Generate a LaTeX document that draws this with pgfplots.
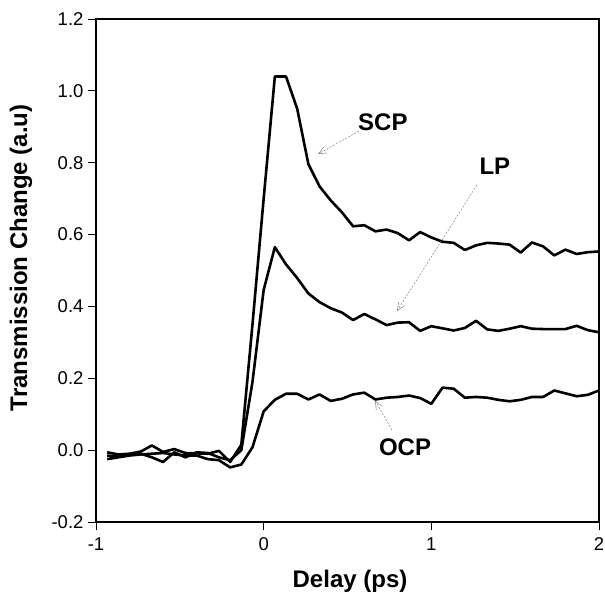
\documentclass[border=0pt]{standalone}
\usepackage{pgfplots}
\pgfplotsset{compat=1.18}
\usepackage{pgfplotstable}
\usepackage{fontspec}
\setmainfont{Liberation Sans}
\usetikzlibrary{arrows.meta}
\pgfplotstableread{
x scp lp ocp
-0.9333 -0.006 -0.015 -0.025
-0.8667 -0.012 -0.018 -0.020
-0.8000 -0.010 -0.012 -0.015
-0.7333 -0.004 -0.010 -0.012
-0.6667 0.013 -0.020 -0.010
-0.6000 -0.005 -0.033 -0.008
-0.5333 0.003 -0.006 -0.012
-0.4667 -0.008 -0.020 -0.015
-0.4000 -0.009 -0.006 -0.015
-0.3333 -0.010 -0.008 -0.025
-0.2667 -0.002 -0.020 -0.028
-0.2000 -0.033 -0.028 -0.048
-0.1333 0.015 0.000 -0.040
-0.0667 0.350 0.190 0.008
0.0000 0.700 0.446 0.108
0.0667 1.040 0.565 0.140
0.1333 1.040 0.517 0.157
0.2000 0.950 0.479 0.157
0.2667 0.796 0.436 0.141
0.3333 0.734 0.412 0.155
0.4000 0.695 0.395 0.137
0.4667 0.662 0.383 0.143
0.5333 0.623 0.362 0.155
0.6000 0.626 0.379 0.160
0.6667 0.609 0.364 0.141
0.7333 0.614 0.348 0.146
0.8000 0.604 0.355 0.148
0.8667 0.584 0.356 0.152
0.9333 0.607 0.332 0.145
1.0000 0.592 0.345 0.129
1.0667 0.580 0.339 0.174
1.1333 0.577 0.333 0.171
1.2000 0.557 0.340 0.146
1.2667 0.570 0.360 0.148
1.3333 0.577 0.336 0.146
1.4000 0.575 0.332 0.140
1.4667 0.572 0.338 0.136
1.5333 0.550 0.345 0.140
1.6000 0.578 0.338 0.148
1.6667 0.567 0.337 0.148
1.7333 0.542 0.337 0.166
1.8000 0.558 0.337 0.158
1.8667 0.546 0.346 0.150
1.9333 0.551 0.334 0.154
2.0000 0.553 0.328 0.166
}\datatable
\begin{document}
\begin{tikzpicture}
\begin{axis}[
  scale only axis,
  width=503pt, height=503pt,
  xmin=-1, xmax=2, ymin=-0.2, ymax=1.2,
  xtick={-1,0,1,2}, xticklabels={-1,0,1,2},
  ytick={-0.2,0,0.2,0.4,0.6,0.8,1.0,1.2},
  yticklabels={-0.2,0.0,0.2,0.4,0.6,0.8,1.0,1.2},
  tick align=outside, xtick pos=left, ytick pos=left,
  major tick length=8pt,
  tick style={line width=0.8pt, black},
  ticklabel style={font=\fontsize{18.5}{22}\selectfont},
  yticklabel style={xshift=-1pt},
  xticklabel style={yshift=-4pt},
  xlabel={\bfseries Delay (ps)},
  ylabel={\bfseries Transmission Change (a.u)},
  label style={font=\fontsize{24}{28}\selectfont},
  xlabel style={at={(axis description cs:0.505,-0.117)}, anchor=center},
  ylabel style={at={(axis description cs:-0.149,0.525)}, anchor=center},
  clip=false,
]
\addplot[black, line width=2.6pt, line join=round, no markers] table[x=x, y=scp] {\datatable};
\addplot[black, line width=2.6pt, line join=round, no markers] table[x=x, y=lp] {\datatable};
\addplot[black, line width=2.6pt, line join=round, no markers] table[x=x, y=ocp] {\datatable};
\draw[black, line width=2.4pt] (rel axis cs:0,0) rectangle (rel axis cs:1,1);
\node[font=\bfseries\fontsize{24}{28}\selectfont] at (axis cs:0.711,0.913) {SCP};
\node[font=\bfseries\fontsize{24}{28}\selectfont] at (axis cs:1.379,0.79) {LP};
\node[font=\bfseries\fontsize{24}{28}\selectfont] at (axis cs:0.843,0.007) {OCP};
\draw[gray, line width=0.5pt, dash pattern=on 2pt off 1.5pt, -{Straight Barb[length=8pt,width=7pt]}] (axis cs:0.568,0.888) -- (axis cs:0.324,0.824);
\draw[gray, line width=0.5pt, dash pattern=on 2pt off 1.5pt, -{Straight Barb[length=8pt,width=7pt]}] (axis cs:1.272,0.738) -- (axis cs:0.795,0.387);
\draw[gray, line width=0.5pt, dash pattern=on 2pt off 1.5pt, -{Straight Barb[length=8pt,width=7pt]}] (axis cs:0.765,0.056) -- (axis cs:0.664,0.138);
\coordinate (ll) at (rel axis cs:0,0);
\coordinate (ur) at (rel axis cs:1,1);
\end{axis}
\pgfresetboundingbox
\path ([shift={(-96pt,-75pt)}]ll) rectangle ([shift={(6pt,19pt)}]ur);
\end{tikzpicture}
\end{document}
